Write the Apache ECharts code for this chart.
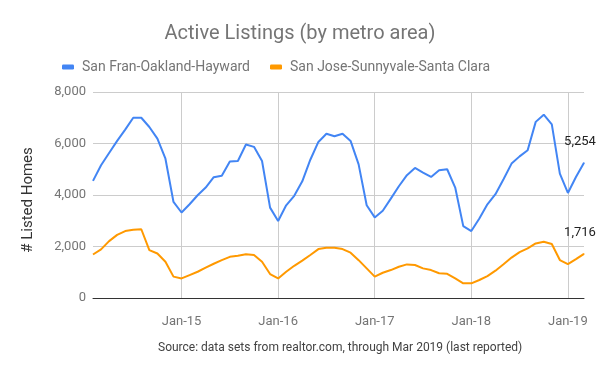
<!DOCTYPE html>
<html><head><meta charset="utf-8">
<script src="https://cdn.jsdelivr.net/npm/echarts@6/dist/echarts.min.js"></script>
<style>html,body{margin:0;padding:0;background:#fff}#c{width:600px;height:371px}</style>
</head><body><div id="c"></div>
<script>
var months = ['Feb-14','Mar-14','Apr-14','May-14','Jun-14','Jul-14','Aug-14','Sep-14','Oct-14','Nov-14','Dec-14',
'Jan-15','Feb-15','Mar-15','Apr-15','May-15','Jun-15','Jul-15','Aug-15','Sep-15','Oct-15','Nov-15','Dec-15',
'Jan-16','Feb-16','Mar-16','Apr-16','May-16','Jun-16','Jul-16','Aug-16','Sep-16','Oct-16','Nov-16','Dec-16',
'Jan-17','Feb-17','Mar-17','Apr-17','May-17','Jun-17','Jul-17','Aug-17','Sep-17','Oct-17','Nov-17','Dec-17',
'Jan-18','Feb-18','Mar-18','Apr-18','May-18','Jun-18','Jul-18','Aug-18','Sep-18','Oct-18','Nov-18','Dec-18',
'Jan-19','Feb-19','Mar-19'];
var sanFran = [4550,5155,5630,6100,6540,7000,7000,6640,6190,5410,3730,
3320,3640,3990,4290,4690,4750,5300,5320,5960,5870,5320,3510,
2990,3600,3970,4530,5370,6060,6380,6280,6380,6100,5190,3600,
3130,3390,3860,4340,4770,5050,4870,4700,4960,5000,4290,2790,
2600,3090,3640,4030,4610,5220,5500,5740,6840,7120,6740,4830,
4080,4700,5254];
var sanJose = [1690,1890,2210,2450,2600,2650,2670,1860,1730,1410,830,
760,890,1020,1180,1330,1470,1600,1640,1700,1670,1410,930,
760,1020,1250,1450,1670,1900,1950,1950,1900,1760,1470,1150,
830,980,1085,1215,1305,1280,1150,1085,960,940,760,570,
570,700,850,1060,1310,1570,1780,1925,2120,2185,2095,1473,
1318,1512,1716];
var seriesNames = ['San Fran-Oakland-Hayward','San Jose-Sunnyvale-Santa Clara'];
var yTicks = [0,2000,4000,6000,8000];

function withEndLabel(arr){
  return arr.map(function(v,i){
    if(i===arr.length-1){
      return {value:v,symbol:'circle',symbolSize:1,
        label:{show:true,position:'top',distance:5,offset:[-4,-9],
        formatter:function(p){return p.value.toLocaleString('en-US');},
        color:'#222',fontSize:13,fontFamily:'Roboto'}};
    }
    return v;
  });
}
var isJan = function(idx,val){ return /^Jan/.test(months[idx]); };
var chart = echarts.init(document.getElementById('c'));
chart.setOption({
  animation:false,
  backgroundColor:'#fff',
  textStyle:{fontFamily:'Roboto'},
  title:[{text:'Active Listings (by metro area)',left:'center',top:19,
    textStyle:{fontSize:20,fontWeight:'normal',color:'#757575',fontFamily:'Roboto'}},
    {text:'Source: data sets from realtor.com, through Mar 2019 (last reported)',left:153,top:337,
    textStyle:{fontSize:12,fontWeight:'normal',color:'#424242',fontFamily:'Roboto'}}],
  legend:{top:55,left:57,itemGap:20,itemWidth:12,itemHeight:5,icon:'roundRect',
    textStyle:{fontSize:14,color:'#757575',fontFamily:'Roboto',padding:[0,0,0,3]},data:seriesNames},
  grid:{left:93,right:16,top:92,bottom:73,containLabel:false},
  graphic:[{type:'text',x:28,y:200,rotation:Math.PI/2,
    style:{text:'# Listed Homes',fontSize:15,fill:'#333',fontFamily:'Roboto',align:'center',verticalAlign:'middle'}}],
  xAxis:{type:'category',data:months,boundaryGap:false,
    axisLine:{lineStyle:{color:'#333',width:1}},
    axisTick:{show:false},
    axisLabel:{interval:isJan,color:'#757575',fontSize:13,margin:17,fontFamily:'Roboto'},
    splitLine:{show:true,interval:isJan,lineStyle:{color:'#ccc'}}},
  yAxis:{type:'value',min:yTicks[0],max:yTicks[yTicks.length-1],interval:2000,
    axisLine:{show:false},axisTick:{show:false},
    axisLabel:{color:'#757575',fontSize:13,margin:7,fontFamily:'Roboto',
      formatter:function(v){return v.toLocaleString('en-US');}},
    splitLine:{lineStyle:{color:'#ccc'}}},
  series:[
    {name:seriesNames[0],type:'line',data:withEndLabel(sanFran),showSymbol:true,showAllSymbol:true,symbol:'none',
      lineStyle:{color:'#4285F4',width:2},itemStyle:{color:'#4285F4'}},
    {name:seriesNames[1],type:'line',data:withEndLabel(sanJose),showSymbol:true,showAllSymbol:true,symbol:'none',
      lineStyle:{color:'#FF9900',width:2},itemStyle:{color:'#FF9900'}}
  ]
});
</script></body></html>
